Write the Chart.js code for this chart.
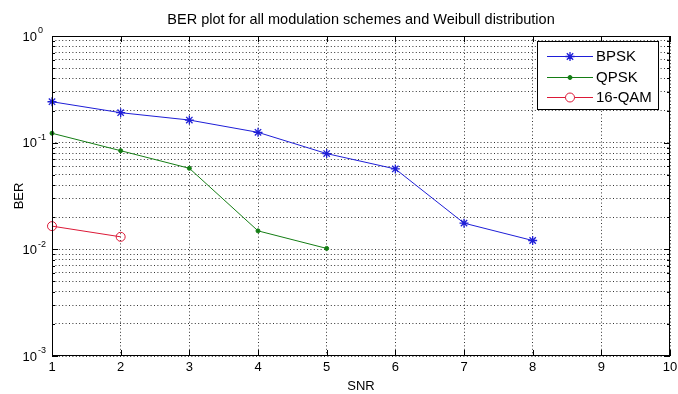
<!DOCTYPE html>
<html>
<head>
<meta charset="utf-8">
<script src="https://cdn.jsdelivr.net/npm/chart.js@4.4.0/dist/chart.umd.min.js"></script>
<style>
    html, body { margin: 0; padding: 0; background: #fff; }
</style>
</head>
<body>
<canvas id="berChart" width="678" height="394"></canvas>
<script>
// データ
const snr = [1, 2, 3, 4, 5, 6, 7, 8];
const bpsk = [0.242, 0.191, 0.163, 0.125, 0.079, 0.0567, 0.0176, 0.0121];
const qpsk = [0.1225, 0.0841, 0.0575, 0.0149, 0.0102];
const qam16 = [0.0165, 0.0131];
const xTicks = [1, 2, 3, 4, 5, 6, 7, 8, 9, 10];
const yExps = [0, -1, -2, -3];
const yMinor = [2, 3, 4, 5, 6, 7, 8, 9];

const FONT = '"Liberation Sans", Arial, sans-serif';
const gridColor = 'rgba(0,0,0,0.8)';
const gridDash = [1, 2.4];

function points(ys) {
    return ys.map((y, i) => ({ x: snr[i], y: y }));
}

const datasets = [
    { label: 'BPSK', data: points(bpsk), borderColor: 'rgb(30,30,215)', backgroundColor: 'rgb(30,30,215)',
      pointStyle: 'star', pointRadius: 4.5, pointBorderWidth: 1.3 },
    { label: 'QPSK', data: points(qpsk), borderColor: 'rgb(20,125,20)', backgroundColor: 'rgb(20,125,20)',
      pointStyle: 'circle', pointRadius: 2, pointBorderWidth: 1 },
    { label: '16-QAM', data: points(qam16), borderColor: 'rgb(220,25,55)', backgroundColor: 'rgba(255,255,255,0)',
      pointStyle: 'circle', pointRadius: 4.5, pointBorderWidth: 1 }
];
datasets.forEach(d => {
    d.borderWidth = 1;
    d.tension = 0;
    d.fill = false;
    d.clip = false;
    d.pointBackgroundColor = d.backgroundColor;
    d.pointBorderColor = d.borderColor;
});

// 枠・目盛り・y軸ラベル・凡例
const matlabPlugin = {
    id: 'matlab',
    afterDraw(chart) {
        const ctx = chart.ctx;
        const a = chart.chartArea;
        const xs = chart.scales.x, ys = chart.scales.y;
        ctx.save();

        // 枠
        ctx.strokeStyle = '#000';
        ctx.lineWidth = 1;
        ctx.strokeRect(Math.round(a.left) + 0.5, Math.round(a.top) + 0.5,
            Math.round(a.right - a.left) - 1, Math.round(a.bottom - a.top) - 1);

        // 目盛り（内向き）
        ctx.beginPath();
        xTicks.forEach(v => {
            const px = Math.round(xs.getPixelForValue(v)) + 0.5;
            ctx.moveTo(px, a.bottom); ctx.lineTo(px, a.bottom - 6);
            ctx.moveTo(px, a.top); ctx.lineTo(px, a.top + 6);
        });
        yExps.forEach(e => {
            const py = Math.round(ys.getPixelForValue(Math.pow(10, e))) + 0.5;
            ctx.moveTo(a.left, py); ctx.lineTo(a.left + 6, py);
            ctx.moveTo(a.right, py); ctx.lineTo(a.right - 6, py);
            if (e === 0) return;
            yMinor.forEach(m => {
                const pm = Math.round(ys.getPixelForValue(m * Math.pow(10, e))) + 0.5;
                ctx.moveTo(a.left, pm); ctx.lineTo(a.left + 3, pm);
                ctx.moveTo(a.right, pm); ctx.lineTo(a.right - 3, pm);
            });
        });
        ctx.stroke();

        // y軸ラベル 10^n
        ctx.fillStyle = '#000';
        yExps.forEach(e => {
            const py = ys.getPixelForValue(Math.pow(10, e));
            ctx.font = '13px ' + FONT;
            ctx.textAlign = 'right';
            ctx.textBaseline = 'middle';
            ctx.fillText('10', 37, py + 1);
            ctx.font = '9px ' + FONT;
            ctx.textAlign = 'left';
            ctx.fillText(e === 0 ? '0' : '-' + Math.abs(e), 38, py - 5);
        });

        // 凡例
        const lx = 537, ly = 41, lw = 121, lh = 68;
        ctx.fillStyle = '#fff';
        ctx.fillRect(lx, ly, lw, lh);
        ctx.strokeStyle = '#000';
        ctx.strokeRect(lx + 0.5, ly + 0.5, lw, lh);
        const rows = [56, 77, 97];
        chart.data.datasets.forEach((d, i) => {
            const y = rows[i];
            ctx.strokeStyle = d.borderColor;
            ctx.lineWidth = 1;
            ctx.beginPath();
            ctx.moveTo(547, y + 0.5); ctx.lineTo(593, y + 0.5);
            ctx.stroke();
            ctx.fillStyle = d.pointStyle === 'circle' && d.pointRadius > 3 ? '#fff' : d.backgroundColor;
            ctx.lineWidth = d.pointBorderWidth;
            Chart.helpers.drawPoint(ctx, { pointStyle: d.pointStyle, radius: d.pointRadius,
                borderWidth: d.pointBorderWidth, rotation: 0 }, 570, y + 0.5);
            ctx.fillStyle = '#000';
            ctx.font = '15px ' + FONT;
            ctx.textAlign = 'left';
            ctx.textBaseline = 'middle';
            ctx.fillText(d.label, 596, y + 1);
        });
        ctx.restore();
    }
};

new Chart(document.getElementById('berChart'), {
    type: 'line',
    data: { datasets: datasets },
    plugins: [matlabPlugin],
    options: {
        responsive: false,
        animation: false,
        layout: { padding: { left: 0, right: 8, top: 0, bottom: 0 } },
        plugins: {
            legend: { display: false },
            tooltip: { enabled: false },
            title: {
                display: true,
                fullSize: false,
                text: 'BER plot for all modulation schemes and Weibull distribution',
                color: '#000',
                font: { family: FONT, size: 14.5, weight: 'normal' },
                padding: { top: 10.8, bottom: 7.8 }
            }
        },
        scales: {
            x: {
                type: 'linear',
                min: 1,
                max: 10,
                afterBuildTicks: s => { s.ticks = xTicks.map(v => ({ value: v })); },
                afterFit: s => { s.height = 38; s.paddingLeft = 0; s.paddingRight = 0; },
                ticks: { color: '#000', font: { family: FONT, size: 13 }, padding: 4, maxRotation: 0 },
                grid: { color: gridColor, lineWidth: 1, drawTicks: false },
                border: { display: false, dash: gridDash },
                title: { display: true, text: 'SNR', color: '#000',
                    font: { family: FONT, size: 13 }, padding: { top: 3, bottom: 0 } }
            },
            y: {
                type: 'logarithmic',
                min: 0.001,
                max: 1,
                afterBuildTicks: s => {
                    const t = [];
                    yExps.forEach(e => {
                        t.push({ value: Math.pow(10, e), major: true });
                        if (e < 0) yMinor.forEach(m => t.push({ value: m * Math.pow(10, e) }));
                    });
                    s.ticks = t;
                },
                afterFit: s => { s.width = 52; s.paddingTop = 0; s.paddingBottom = 0; },
                ticks: { display: false },
                grid: { color: gridColor, lineWidth: 1, drawTicks: false },
                border: { display: false, dash: gridDash },
                title: { display: true, text: 'BER', color: '#000',
                    font: { family: FONT, size: 13 }, padding: { top: 12, bottom: 0 } }
            }
        }
    }
});
</script>
</body>
</html>
